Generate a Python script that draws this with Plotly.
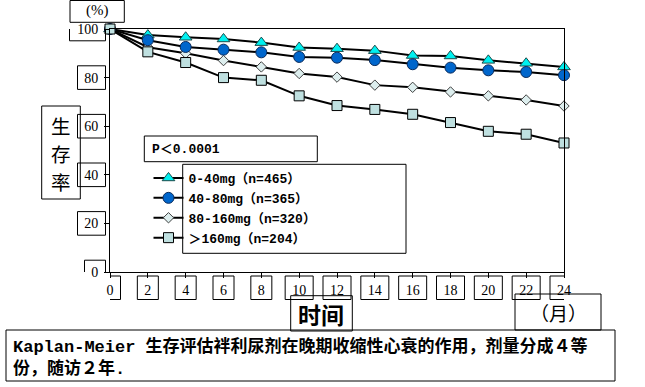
import plotly.graph_objects as go

# ---------------- data ----------------
months = [0, 2, 4, 6, 8, 10, 12, 14, 16, 18, 20, 22, 24]
dose_0_40 = [100, 97.5, 96.6, 95.9, 94.4, 92.4, 91.9, 91.1, 89.1, 88.9, 87.1, 85.9, 84.4]
dose_40_80 = [100, 95.4, 92.6, 91.5, 90.4, 88.5, 88.2, 87.2, 85.5, 84.1, 83.0, 82.3, 81.0]
dose_80_160 = [100, 92.5, 90.0, 87.0, 84.4, 81.7, 80.2, 76.9, 76.0, 74.1, 72.5, 70.8, 68.3]
dose_160_plus = [100, 90.6, 86.2, 80.0, 78.9, 72.5, 68.5, 66.9, 64.9, 61.5, 57.9, 56.7, 53.1]
series_names = ["0-40mg（n=465）", "40-80mg（n=365）", "80-160mg（n=320）", "＞160mg（n=204）"]
x_tick_vals = months
x_tick_text = [str(m) for m in months]
y_tick_vals = [0, 20, 40, 60, 80, 100]
y_tick_text = [str(v) for v in y_tick_vals]
y_title_chars = ["生", "存", "率"]
x_title = "时间"
unit_y = "(%)"
unit_x = "（月）"
p_text = "P＜0.0001"
caption = "Kaplan-Meier 生存评估袢利尿剂在晚期收缩性心衰的作用，剂量分成４等<br>份，随访２年."

# ---------------- geometry ----------------
W, H = 645, 387
ML, MR, MT, MB = 110, 81, 29, 115
PW, PH = W - ML - MR, H - MT - MB


def px(x):
    return (x - ML) / PW


def py(y):
    return (H - MB - y) / PH


SERIF = "Liberation Serif, Noto Sans CJK SC, serif"
MONO = "Liberation Mono, Noto Sans CJK SC, monospace"
CJK = "Noto Sans CJK SC, sans-serif"

fig = go.Figure()

styles = {
    0: dict(symbol="triangle-up", size=11, color="#00F0F0", line=dict(color="#1A4A4A", width=1)),
    1: dict(symbol="circle", size=11, color="#0066CC", line=dict(color="#0A2A5A", width=1)),
    2: dict(symbol="diamond", size=8, color="#DDEEEE", line=dict(color="#404040", width=1)),
    3: dict(symbol="square", size=10, color="#BFE0E0", line=dict(color="#000000", width=1)),
}
series = [dose_0_40, dose_40_80, dose_80_160, dose_160_plus]
# drawing order: triangle, diamond, circle, square (legend keeps the original order)
for idx in [0, 2, 1, 3]:
    fig.add_trace(go.Scatter(
        x=months, y=series[idx], mode="lines+markers", name=series_names[idx],
        line=dict(color="black", width=2), marker=styles[idx],
        legendrank=idx + 1, cliponaxis=False,
    ))

shapes = []


def box(x0, y0, x1, y1, xref="paper", yref="paper"):
    shapes.append(dict(type="rect", xref=xref, yref=yref, x0=x0, y0=y0, x1=x1, y1=y1,
                       line=dict(color="black", width=1), fillcolor="rgba(0,0,0,0)", layer="above"))


# x tick label boxes
unit_px = PW / (months[-1] - months[0])
for v, t in zip(x_tick_vals, x_tick_text):
    w = 21 if len(t) == 1 else 28
    hw = w / 2 / unit_px
    box(v - hw, py(276), v + hw, py(299.5), xref="x", yref="paper")

# y tick label boxes
yunit = PH / 100
for v, t in zip(y_tick_vals, y_tick_text):
    w = {1: 21, 2: 28, 3: 36}[len(t)]
    hh = 11.8 / yunit
    box(px(105.5 - w), v - hh, px(105.5), v + hh, xref="paper", yref="y")

box(px(70), py(0.5), px(124.3), py(22.3))          # (%)
box(px(41.7), py(106), px(80.3), py(199))          # 生存率
box(px(290.7), py(295.7), px(352.3), py(331))      # 时间
box(px(515), py(294), px(601), py(330))            # (月)
box(px(6), py(330), px(615), py(381))              # caption
box(px(144.3), py(136), px(317.3), py(161.7))      # P value
box(px(182.7), py(164.3), px(406), py(253.3))      # legend

annotations = [
    dict(text=unit_y, x=px(97), y=py(11), font=dict(family=SERIF, size=15, color="black")),
    dict(text=x_title, x=px(321), y=py(313.5), font=dict(family=CJK, size=23, color="black", weight="bold")),
    dict(text=unit_x, x=px(558), y=py(312.5), font=dict(family=CJK, size=19, color="black")),
    dict(text=p_text, x=px(150), y=py(149), xanchor="left",
         font=dict(family=MONO, size=13, color="black", weight="bold")),
    dict(text=caption, x=px(11), y=py(357), xanchor="left", align="left",
         font=dict(family=MONO, size=17, color="black", weight="bold")),
]
for i, ch in enumerate(y_title_chars):
    annotations.append(dict(text=ch, x=px(61), y=py(125 + 28.3 * i),
                            font=dict(family=CJK, size=19.5, color="black")))
for a in annotations:
    a.setdefault("xanchor", "center")
    a.update(xref="paper", yref="paper", yanchor="middle", showarrow=False)

fig.update_layout(
    width=W, height=H,
    margin=dict(l=ML, r=MR, t=MT, b=MB),
    paper_bgcolor="white", plot_bgcolor="white",
    showlegend=True,
    legend=dict(x=px(148.5), y=py(163), xanchor="left", yanchor="top",
                bgcolor="rgba(0,0,0,0)", borderwidth=0,
                font=dict(family=MONO, size=13, color="black", weight="bold"),
                itemsizing="trace", traceorder="normal"),
    shapes=shapes, annotations=annotations,
    xaxis=dict(range=[0, 24], tickmode="array", tickvals=x_tick_vals, ticktext=x_tick_text,
               ticks="outside", ticklen=5, tickcolor="black", showline=True, linecolor="black",
               linewidth=1, mirror=True, showgrid=False, zeroline=False,
               tickfont=dict(family=SERIF, size=14, color="black")),
    yaxis=dict(range=[0, 100], tickmode="array", tickvals=y_tick_vals, ticktext=y_tick_text,
               ticks="outside", ticklen=5, tickcolor="black", showline=True, linecolor="black",
               linewidth=1, mirror=True, showgrid=False, zeroline=False, ticklabelstandoff=3,
               tickfont=dict(family=SERIF, size=14, color="black")),
)

fig.write_html("out.html", config={"displayModeBar": False},
               post_script="document.body.style.margin='0';document.body.style.overflow='hidden';")
